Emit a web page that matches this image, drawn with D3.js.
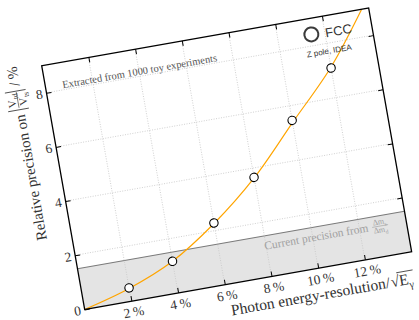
<!DOCTYPE html>
<html>
<head>
<meta charset="utf-8">
<script src="https://cdn.jsdelivr.net/npm/d3@7"></script>
<style>
  body { margin: 0; background: #fff; }
  svg { display: block; }
</style>
</head>
<body>
<svg id="chart" width="419" height="320"></svg>
<script>
// values
const xTicks = [2, 4, 6, 8, 10, 12];
const yTicks = [0, 2, 4, 6, 8];
const toyX = [2, 4, 6, 8, 10, 12];
const toyY = [0.49, 1.17, 2.28, 3.66, 5.46, 7.09];
const fitX = [0, 2, 4, 6, 8, 10, 12, 13.7];
const fitY = [0, 0.47, 1.17, 2.26, 3.64, 5.38, 7.12, 9.0];
const currentPrecision = 1.5;

const W = 332, H = 247.5;
const serif = "'Liberation Serif', 'Times New Roman', serif";
const sans = "'Liberation Sans', Arial, sans-serif";
const ink = '#333';

const svg = d3.select('#chart');
svg.append('rect').attr('width', 419).attr('height', 320).attr('fill', '#fff');

// whole plot is tilted by about 10 degrees
const g = svg.append('g').attr('transform', 'translate(41.7,65.7) rotate(-10)');

const x = d3.scaleLinear().domain([0, 14]).range([0, W]);
const y = d3.scaleLinear().domain([0, 9]).range([H, 0]);

// helper: text with subscripts
function rich(sel, parts, size) {
    let shift = 0;
    parts.forEach(p => {
        const target = p.sub ? size * 0.28 : 0;
        sel.append('tspan')
            .attr('dy', target - shift)
            .attr('font-size', p.sub ? size * 0.7 : size)
            .text(p.t);
        shift = target;
    });
}

// helper: stacked fraction, returns its width
function frac(parent, x0, base, num, den, size, color) {
    const n = parent.append('text').attr('x', 0).attr('y', 0)
        .attr('font-family', serif).attr('fill', color).attr('font-size', size);
    rich(n, num, size);
    const d = parent.append('text').attr('x', 0).attr('y', 0)
        .attr('font-family', serif).attr('fill', color).attr('font-size', size);
    rich(d, den, size);
    const wn = n.node().getComputedTextLength();
    const wd = d.node().getComputedTextLength();
    const w = Math.max(wn, wd) + 2;
    const bar = base - size * 0.42;
    n.attr('x', x0 + (w - wn) / 2).attr('y', bar - size * 0.22);
    d.attr('x', x0 + (w - wd) / 2).attr('y', bar + size * 0.8);
    parent.append('line')
        .attr('x1', x0).attr('x2', x0 + w)
        .attr('y1', bar).attr('y2', bar)
        .attr('stroke', color).attr('stroke-width', 0.6);
    return w;
}

// shaded band of the current precision
g.append('rect')
    .attr('x', x(0)).attr('y', y(currentPrecision))
    .attr('width', x(14) - x(0)).attr('height', y(0) - y(currentPrecision))
    .attr('fill', '#e4e4e4');
g.append('line')
    .attr('x1', x(0)).attr('x2', x(14))
    .attr('y1', y(currentPrecision)).attr('y2', y(currentPrecision))
    .attr('stroke', '#7a7a7a').attr('stroke-width', 1);

// dotted grid
g.selectAll('.gx').data(xTicks).enter().append('line')
    .attr('x1', d => x(d)).attr('x2', d => x(d))
    .attr('y1', 0).attr('y2', H)
    .attr('stroke', '#c8c8c8').attr('stroke-width', 0.8)
    .attr('stroke-dasharray', '1,1.5');
g.selectAll('.gy').data(yTicks.filter(d => d > 0)).enter().append('line')
    .attr('x1', 0).attr('x2', W)
    .attr('y1', d => y(d)).attr('y2', d => y(d))
    .attr('stroke', '#c8c8c8').attr('stroke-width', 0.8)
    .attr('stroke-dasharray', '1,1.5');

// band caption
const cap = g.append('g');
const capT = cap.append('text').attr('x', 188).attr('y', 220)
    .attr('font-family', serif).attr('font-size', 11.5).attr('fill', '#a0a0a0')
    .text('Current precision from');
frac(cap, 188 + capT.node().getComputedTextLength() + 4, 220,
    [{t: 'Δm'}, {t: 's', sub: true}], [{t: 'Δm'}, {t: 'd', sub: true}], 8, '#a0a0a0');

// fit curve
g.append('clipPath').attr('id', 'clip').append('rect').attr('width', W).attr('height', H);
const fit = fitX.map((d, i) => [d, fitY[i]]);
g.append('path')
    .datum(fit)
    .attr('clip-path', 'url(#clip)')
    .attr('fill', 'none')
    .attr('stroke', '#ffa500')
    .attr('stroke-width', 1.2)
    .attr('d', d3.line().x(d => x(d[0])).y(d => y(d[1])).curve(d3.curveCatmullRom));

// toy experiment points
g.selectAll('.pt').data(toyX).enter().append('circle')
    .attr('cx', d => x(d))
    .attr('cy', (d, i) => y(toyY[i]))
    .attr('r', 4.2)
    .attr('fill', '#fff')
    .attr('stroke', '#000')
    .attr('stroke-width', 1.1);

// axes, ticks pointing inward
const xAxis = g.append('g').attr('transform', 'translate(0,' + H + ')')
    .call(d3.axisBottom(x).tickValues(xTicks).tickSizeInner(-5).tickSizeOuter(0)
        .tickPadding(6).tickFormat(d => d + '\u2009%'));
const yAxis = g.append('g')
    .call(d3.axisLeft(y).tickValues(yTicks).tickSizeInner(-5).tickSizeOuter(0)
        .tickPadding(4));
g.append('g')
    .call(d3.axisTop(x).tickValues(xTicks).tickSizeInner(-5).tickSizeOuter(0).tickFormat(''));
g.append('g').attr('transform', 'translate(' + W + ',0)')
    .call(d3.axisRight(y).tickValues(yTicks.filter(d => d > 0)).tickSizeInner(-5).tickSizeOuter(0).tickFormat(''));

g.selectAll('.domain').remove();
g.selectAll('.tick line').attr('stroke', '#000').attr('stroke-width', 1);
[xAxis, yAxis].forEach(a => a.selectAll('text')
    .attr('font-family', serif).attr('font-size', 13.5).attr('fill', ink));

// frame
g.append('rect').attr('width', W).attr('height', H)
    .attr('fill', 'none').attr('stroke', '#000').attr('stroke-width', 1.3);

// annotation
g.append('text').attr('x', 17).attr('y', 26)
    .attr('font-family', serif).attr('font-size', 10.5).attr('fill', '#555')
    .text('Extracted from 1000 toy experiments');

// FCC logo
g.append('circle').attr('cx', 271).attr('cy', 16).attr('r', 7)
    .attr('fill', 'none').attr('stroke', '#3a3a3a').attr('stroke-width', 2);
g.append('text').attr('x', 285).attr('y', 21.5)
    .attr('font-family', sans).attr('font-size', 13).attr('fill', '#333')
    .text('FCC');
g.append('text').attr('x', 263).attr('y', 38)
    .attr('font-family', sans).attr('font-size', 8).attr('fill', '#333')
    .text('Z pole, IDEA');

// x label
const xl = g.append('text').attr('x', 144).attr('y', 279)
    .attr('font-family', serif).attr('font-size', 15.5).attr('fill', ink);
xl.append('tspan').text('Photon energy-resolution/');
xl.append('tspan').attr('dx', 1).text('\u221A');
xl.append('tspan').text('E');
xl.append('tspan').attr('dy', 4).attr('font-size', 10.5).text('γ');
const xn = xl.node();
const n0 = 'Photon energy-resolution/\u221A'.length;
const ex0 = xn.getStartPositionOfChar(n0 - 1).x + 7;
const ex1 = xn.getEndPositionOfChar(n0 + 1).x + 1;
g.append('line').attr('x1', ex0).attr('x2', ex1)
    .attr('y1', 279 - 13.5).attr('y2', 279 - 13.5)
    .attr('stroke', ink).attr('stroke-width', 0.8);

// y label
const yl = g.append('g').attr('transform', 'translate(-25,172) rotate(-90)');
const yt = yl.append('text').attr('x', 0).attr('y', 0)
    .attr('font-family', serif).attr('font-size', 15).attr('fill', ink)
    .text('Relative precision on');
let px = yt.node().getComputedTextLength() + 5;
yl.append('line').attr('x1', px).attr('x2', px).attr('y1', -16).attr('y2', 5)
    .attr('stroke', ink).attr('stroke-width', 0.8);
px += 2;
px += frac(yl, px, 0, [{t: 'V'}, {t: 'td', sub: true}], [{t: 'V'}, {t: 'ts', sub: true}], 11, ink);
px += 1;
yl.append('line').attr('x1', px).attr('x2', px).attr('y1', -16).attr('y2', 5)
    .attr('stroke', ink).attr('stroke-width', 0.8);
yl.append('text').attr('x', px + 5).attr('y', 0)
    .attr('font-family', serif).attr('font-size', 15).attr('fill', ink)
    .text('/\u2009%');
</script>
</body>
</html>
